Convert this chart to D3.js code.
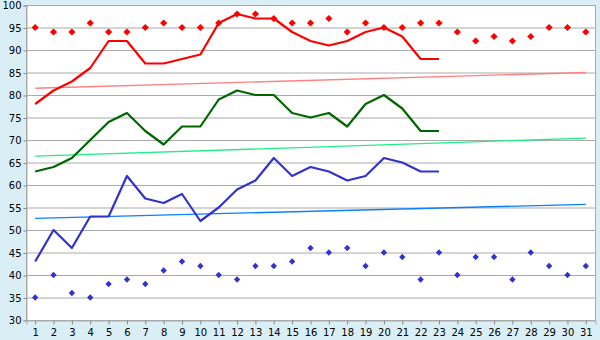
<!DOCTYPE html>
<html>
<head>
<meta charset="utf-8">
<script src="https://cdn.jsdelivr.net/npm/d3@7"></script>
<style>
  body { margin: 0; background: #daeef6; }
  text { font-family: "DejaVu Sans", Verdana, sans-serif; }
</style>
</head>
<body>
<div id="chart"></div>
<script>
// data
const days = d3.range(1, 32);
const yTicks = [30, 35, 40, 45, 50, 55, 60, 65, 70, 75, 80, 85, 90, 95, 100];

const redLine = [78, 81, 83, 86, 92, 92, 87, 87, 88, 89, 96, 98, 97, 97, 94, 92, 91, 92, 94, 95, 93, 88, 88];
const greenLine = [63, 64, 66, 70, 74, 76, 72, 69, 73, 73, 79, 81, 80, 80, 76, 75, 76, 73, 78, 80, 77, 72, 72];
const blueLine = [43, 50, 46, 53, 53, 62, 57, 56, 58, 52, 55, 59, 61, 66, 62, 64, 63, 61, 62, 66, 65, 63, 63];

const redDots = [95, 94, 94, 96, 94, 94, 95, 96, 95, 95, 96, 98, 98, 97, 96, 96, 97, 94, 96, 95, 95, 96, 96, 94, 92, 93, 92, 93, 95, 95, 94];
const blueDots = [35, 40, 36, 35, 38, 39, 38, 41, 43, 42, 40, 39, 42, 42, 43, 46, 45, 46, 42, 45, 44, 39, 45, 40, 44, 44, 39, 45, 42, 40, 42];

// trend lines: value at day 1 and day 31
const redTrend = [81.5, 85];
const greenTrend = [66.4, 70.4];
const blueTrend = [52.6, 55.7];

const W = 600, H = 340;
const plot = {left: 26, right: 595, top: 5, bottom: 320};

const svg = d3.select("#chart").append("svg")
    .attr("width", W)
    .attr("height", H);

const x = d3.scaleBand()
    .domain(days)
    .range([plot.left, plot.right])
    .padding(0);

const y = d3.scaleLinear()
    .domain([30, 100])
    .range([plot.bottom, plot.top]);

const cx = d => x(d) + x.bandwidth() / 2;

// plot background
svg.append("rect")
    .attr("x", plot.left).attr("y", plot.top)
    .attr("width", plot.right - plot.left).attr("height", plot.bottom - plot.top)
    .attr("fill", "#fff");

// grid
svg.append("g")
    .selectAll("line")
    .data(yTicks)
    .join("line")
    .attr("x1", plot.left).attr("x2", plot.right)
    .attr("y1", d => y(d) + 0.5).attr("y2", d => y(d) + 0.5)
    .attr("stroke", "#aaa")
    .attr("stroke-width", 1);

// border
svg.append("rect")
    .attr("x", plot.left + 0.5).attr("y", plot.top + 0.5)
    .attr("width", plot.right - plot.left).attr("height", plot.bottom - plot.top)
    .attr("fill", "none")
    .attr("stroke", "#aaa");

// axes
const yAxis = svg.append("g")
    .attr("transform", `translate(${plot.left + 0.5},0.5)`)
    .call(d3.axisLeft(y).tickValues(yTicks).tickSize(3).tickPadding(2));

const xAxis = svg.append("g")
    .attr("transform", `translate(0.5,${plot.bottom + 0.5})`)
    .call(d3.axisBottom(x).tickSize(4).tickPadding(4));

[yAxis, xAxis].forEach(a => {
    a.select(".domain").attr("stroke", "#aaa");
    a.selectAll(".tick line").attr("stroke", "#888");
    a.selectAll(".tick text")
        .attr("fill", "#000")
        .style("font-size", "10px")
        .style("font-family", "'DejaVu Sans', Verdana, sans-serif");
});

// trend lines
const trends = [
    {v: redTrend, color: "#ff8080"},
    {v: greenTrend, color: "#22ee88"},
    {v: blueTrend, color: "#0a7fff"}
];
svg.append("g")
    .selectAll("line")
    .data(trends)
    .join("line")
    .attr("x1", cx(1)).attr("x2", cx(31))
    .attr("y1", d => y(d.v[0])).attr("y2", d => y(d.v[1]))
    .attr("stroke", d => d.color)
    .attr("stroke-width", 1.3);

// lines
const line = d3.line()
    .x((d, i) => cx(days[i]))
    .y(d => y(d));

const series = [
    {v: redLine, color: "#ff0000"},
    {v: greenLine, color: "#006600"},
    {v: blueLine, color: "#3333cc"}
];
svg.append("g")
    .selectAll("path")
    .data(series)
    .join("path")
    .attr("d", d => line(d.v))
    .attr("fill", "none")
    .attr("stroke", d => d.color)
    .attr("stroke-width", 2.2)
    .attr("stroke-linejoin", "round");

// diamond markers (squares turned 45 degrees)
const square = d3.symbol().type(d3.symbolSquare);

svg.append("g")
    .selectAll("path")
    .data(redDots)
    .join("path")
    .attr("transform", (d, i) => `translate(${cx(days[i])},${y(d)}) rotate(45)`)
    .attr("d", square.size(26)())
    .attr("fill", "#ff0000");

svg.append("g")
    .selectAll("path")
    .data(blueDots)
    .join("path")
    .attr("transform", (d, i) => `translate(${cx(days[i])},${y(d)}) rotate(45)`)
    .attr("d", square.size(20)())
    .attr("fill", "#3333cc");
</script>
</body>
</html>
